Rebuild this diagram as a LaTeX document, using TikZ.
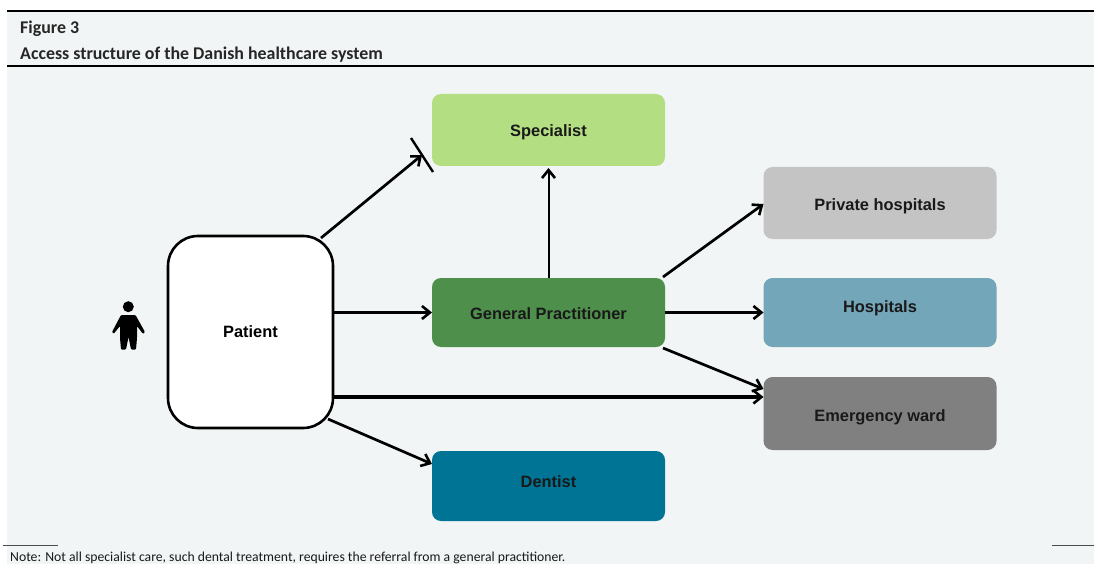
\documentclass[tikz,border=0pt]{standalone}
\usepackage{fontspec}
\setmainfont{Liberation Sans}
\newfontfamily\headfont{Carlito}
\newfontfamily\headbold{Carlito Bold}
\newfontfamily\boxfont{Liberation Sans Bold}
\newcommand{\liftby}[2]{\raisebox{#1}[0pt][0pt]{#2}}
\usetikzlibrary{arrows.meta,calc}
\definecolor{panelbg}{HTML}{F1F5F5}
\definecolor{specfill}{HTML}{B3DF82}
\definecolor{gpfill}{HTML}{4F8F4C}
\definecolor{privfill}{HTML}{C4C4C4}
\definecolor{hospfill}{HTML}{72A6B8}
\definecolor{emfill}{HTML}{808080}
\definecolor{dentfill}{HTML}{007494}
\tikzset{
  x=1pt,y=-1pt,
  box/.style={rounded corners=9pt,draw=none,outer sep=0pt,inner sep=0pt,minimum width=233pt,font=\boxfont\fontsize{16.4}{20}\selectfont,text=black!90},
  patientbox/.style={rounded corners=30pt,draw=black,line width=2.6pt,fill=white,outer sep=0pt,inner sep=0pt,minimum width=165pt,minimum height=192pt,font=\boxfont\fontsize{16.4}{20}\selectfont},
  conn/.style={draw=black,line width=2.7pt,-{Straight Barb[length=8pt,width=13pt,line width=2.6pt]}},
  heavyconn/.style={conn,line width=3.4pt},
  thinconn/.style={conn,line width=2pt},
  heading/.style={anchor=base west,inner sep=0pt,font=\headbold\fontsize{17.9}{20}\selectfont,text=black!85},
  notetext/.style={anchor=base west,inner sep=0pt,font=\headfont\fontsize{13.7}{15}\selectfont,text=black!90},
}
\begin{document}
\begin{tikzpicture}
\useasboundingbox (0,0) rectangle (1094,564);
\fill[white] (0,0) rectangle (1094,564);
\fill[panelbg] (7,12) rectangle (1094,564);
\draw[line width=2.8pt] (7,11) -- (1094,11);
\draw[line width=1.1pt] (7,66) -- (1094,66);
\draw[line width=1pt,black!70] (3,545) -- (58,545);
\draw[line width=1pt,black!70] (1052,545) -- (1094,545);
\node[heading] (fig) at (20,34) {Figure 3};
\node[heading] (title) at (20,60) {Access structure of the Danish healthcare system};
\node[notetext] (note) at (10,561) {Note: Not all specialist care, such dental treatment, requires the referral from a general practitioner.};

\node[box,fill=specfill,minimum height=72pt] (spec) at (548.5,130) {\liftby{-7pt}{Specialist}};
\node[box,fill=gpfill,minimum height=69pt] (gp) at (548.5,312.5) {\liftby{-6.5pt}{General Practitioner}};
\node[box,fill=dentfill,minimum height=70pt] (dent) at (548.5,486) {\liftby{-1pt}{Dentist}};
\node[box,fill=privfill,minimum height=72pt] (priv) at (880,203) {\liftby{-7pt}{Private hospitals}};
\node[box,fill=hospfill,minimum height=69pt] (hosp) at (880,312.5) {\liftby{0.5pt}{Hospitals}};
\node[box,fill=emfill,minimum height=73pt] (em) at (880,413.5) {\liftby{-7.5pt}{Emergency ward}};
\node[patientbox] (pat) at (250.5,332) {\liftby{-5pt}{Patient}};

% person icon
\fill (128.3,306.7) circle (5.5);
\fill[rounded corners=1pt] (121,315) -- (135.5,315) -- (145,332) -- (143,334) -- (137,326) -- (137,338) -- (136,349.5) -- (131,349.5) -- (128.5,337) -- (126,349.5) -- (121,349.5) -- (120,338) -- (120,326) -- (113.5,334) -- (112,332) -- cycle;

% connectors
\coordinate (bar1) at (411,138);
\coordinate (bar2) at (433,172);
\draw[line width=2.4pt] (bar1) -- (bar2);
\draw[conn] ([shift={(-12,2)}]pat.north east) -- ($(bar1)!0.5!(bar2)$);
\draw[conn] (pat.east |- gp.west) -- (gp.west);
\draw[heavyconn] ([shift={(0,65)}]pat.east) -- ([shift={(0,-16.5)}]em.west);
\draw[conn] ([shift={(-5,-9)}]pat.south east) -- ([shift={(0,-22)}]dent.west);
\draw[thinconn] (gp.north) -- ([shift={(0,2)}]spec.south);
\draw[conn] ([shift={(-2,-1)}]gp.north east) -- ([shift={(0,1)}]priv.west);
\draw[conn] (gp.east) -- (hosp.west);
\draw[conn] ([shift={(-2,1)}]gp.south east) -- ([shift={(0,-24.5)}]em.west);
\end{tikzpicture}
\end{document}
